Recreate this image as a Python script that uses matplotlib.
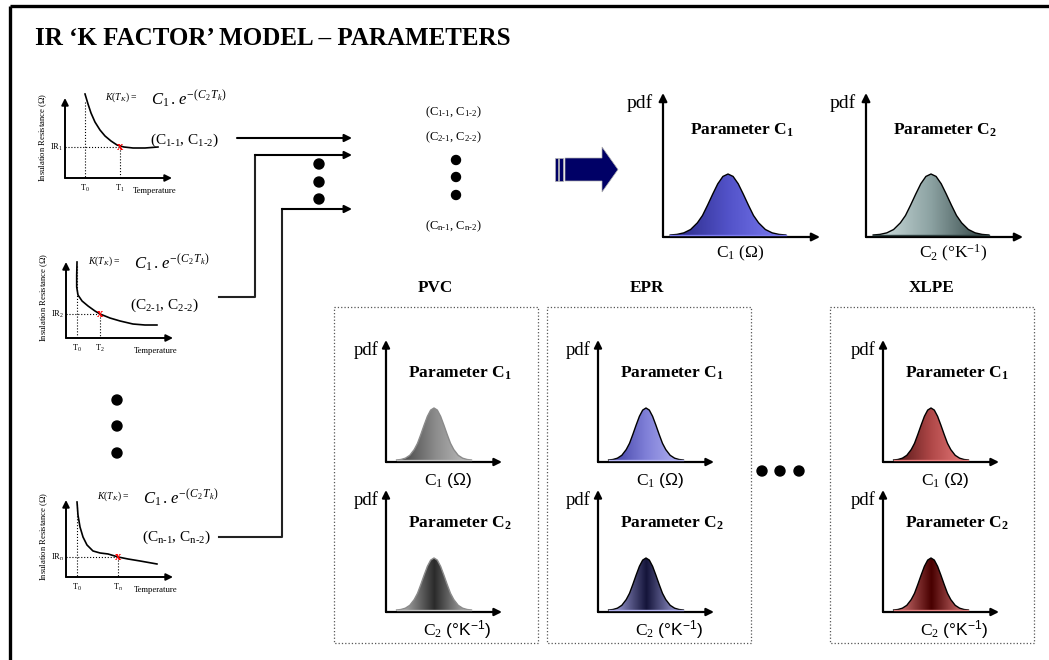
import numpy as np
import matplotlib
matplotlib.use('Agg')
import matplotlib.pyplot as plt
from matplotlib.patches import Polygon, Rectangle, Circle
from matplotlib.colors import LinearSegmentedColormap

plt.rcParams['font.family'] = ['Liberation Serif', 'DejaVu Serif']
plt.rcParams['mathtext.fontset'] = 'custom'
plt.rcParams['mathtext.rm'] = 'Liberation Serif'
plt.rcParams['mathtext.it'] = 'Liberation Serif:italic'
plt.rcParams['mathtext.bf'] = 'Liberation Serif:bold'
plt.rcParams['mathtext.sf'] = 'Liberation Sans'

# ---- values ----
title = 'IR ‘K FACTOR’ MODEL – PARAMETERS'
materials = ['PVC', 'EPR', 'XLPE']
param_names = [r'Parameter $\mathbf{C_1}$', r'Parameter $\mathbf{C_2}$']
unit_labels = [r'C$_1$ ($\Omega$)', r'C$_2$ ($\degree$K$^{-1}$)']
small_unit_labels = [r'C$_1$ $\mathsf{(\Omega)}$', r'C$_2$ $\mathsf{(\degree K^{-1})}$']
sample_ids = ['1', '2', 'n']
coef_labels = [r'(C$_{1\text{-}1}$, C$_{1\text{-}2}$)',
               r'(C$_{2\text{-}1}$, C$_{2\text{-}2}$)',
               r'(C$_{\mathrm{n}\text{-}1}$, C$_{\mathrm{n}\text{-}2}$)']
formula = r'$C_1\,.\,e^{-(C_2\,T_k)}$'

# IR vs temperature sketches (fraction of axis length / axis height)
ir_temp = [
    [.187, .215, .243, .28, .327, .374, .43, .486, .551, .636, .748, .869],
    [.103, .100, .100, .112, .15, .206, .271, .318, .411, .505, .626, .738, .85],
    [.103, .112, .131, .159, .196, .252, .318, .393, .486, .579, .692, .85],
]
ir_res = [
    [1.05, .925, .8125, .7, .6, .525, .4625, .4125, .3875, .375, .375, .3875],
    [1.0, .829, .671, .566, .487, .421, .355, .316, .263, .224, .184, .171, .171],
    [.974, .805, .649, .519, .416, .338, .312, .299, .26, .234, .208, .169],
]
t0_temp = [.187, .103, .103]
tk_temp = [.514, .318, .486]
tk_res = [.3875, .316, .26]

# bell-shaped pdf profile (offset in widths, relative height)
bell_u = [-3.4, -3.0, -2.6, -2.2, -1.8, -1.5, -1.2, -0.9, -0.6, -0.3, 0.0,
          0.3, 0.6, 0.9, 1.2, 1.5, 1.8, 2.2, 2.6, 3.0, 3.4]
bell_h = [0.0, 0.01, 0.035, 0.09, 0.2, 0.32, 0.49, 0.67, 0.84, 0.96, 1.0,
          0.96, 0.84, 0.67, 0.49, 0.32, 0.2, 0.09, 0.035, 0.01, 0.0]

top_colors = [['#262680', '#5252c8', '#7c7cf2'], ['#d4e4e4', '#8ca2a2', '#2e4040']]
small_colors = [
    [['#3e3e3e', '#8a8a8a', '#c2c2c2'], ['#c2c2c2', '#2a2a2a', '#c2c2c2']],
    [['#3c3ca0', '#8080d8', '#b6b6f4'], ['#b2b2ee', '#14143a', '#b2b2ee']],
    [['#501414', '#b04848', '#ec8080'], ['#e48282', '#480000', '#e48282']],
]
small_edges = ['#8a8a8a', 'black', 'black']

# ---- layout (pixels) ----
fig = plt.figure(figsize=(10.49, 6.6), dpi=100)
ax = fig.add_axes([0, 0, 1, 1])
ax.axis('off')


def arrow(x0, y0, x1, y1, lw=1.5, ms=11, color='black'):
    ax.annotate('', xy=(x1, y1), xytext=(x0, y0),
                arrowprops=dict(arrowstyle='-|>', lw=lw, color=color,
                                shrinkA=0, shrinkB=0, mutation_scale=ms))


def dot(x, y, r=5):
    ax.add_patch(Circle((x, y), r, color='black', zorder=5))


def bell(cx, base, width, height, colors, edge):
    xs = cx + np.array(bell_u) * width
    ys = base - np.array(bell_h) * height
    patch = Polygon(np.column_stack([xs, ys]), closed=True, fc='none', ec='none')
    ax.add_patch(patch)
    cmap = LinearSegmentedColormap.from_list('g', colors)
    im = ax.imshow(np.linspace(0, 1, 256).reshape(1, -1), cmap=cmap, aspect='auto',
                   extent=[xs.min(), xs.max(), base, base - height], zorder=3)
    im.set_clip_path(patch)
    ax.plot(xs, ys, color=edge, lw=1.0, zorder=4)
    ax.plot([xs.min(), xs.max()], [base, base], color=colors[-1], lw=1.0, zorder=4)


# frame and title
ax.plot([10, 1049], [6, 6], color='black', lw=2.4, solid_capstyle='butt')
ax.plot([10, 10], [6, 660], color='black', lw=2.4, solid_capstyle='butt')
ax.text(35, 45, title, fontsize=18, fontweight='bold', va='baseline')

# IR sketches on the left
sk_origin = [(65, 178), (66, 338), (66, 577)]
sk_h = [80, 76, 77]
sk_w = 107
formula_pos = [(105, 97), (88, 261), (97, 496)]
coef_pos = [(150, 140), (130, 305), (142, 537)]
for i, (ox, oy) in enumerate(sk_origin):
    h = sk_h[i]
    arrow(ox, oy, ox, oy - h, lw=1.4, ms=10)
    arrow(ox, oy, ox + sk_w, oy, lw=1.4, ms=10)
    px = ox + np.array(ir_temp[i]) * sk_w
    py = oy - np.array(ir_res[i]) * h
    ax.plot(px, py, color='black', lw=1.2)
    t0x = ox + t0_temp[i] * sk_w
    tkx = ox + tk_temp[i] * sk_w
    tky = oy - tk_res[i] * h
    ax.plot([t0x, t0x], [oy - h + 4, oy], color='black', lw=0.8, ls=':')
    ax.plot([tkx, tkx], [tky, oy], color='black', lw=0.8, ls=':')
    ax.plot([ox, tkx], [tky, tky], color='black', lw=0.8, ls=':')
    ax.text(tkx, tky, 'x', color='red', fontsize=9, fontweight='bold', ha='center', va='center')
    ax.text(ox - 2, tky, 'IR$_{%s}$' % sample_ids[i], fontsize=6, ha='right', va='center')
    ax.text(t0x, oy + 10, 'T$_0$', fontsize=6, ha='center', va='center')
    ax.text(tkx, oy + 10, 'T$_{%s}$' % sample_ids[i], fontsize=6, ha='center', va='center')
    ax.text(ox + 90, oy + 13, 'Temperature', fontsize=6.2, ha='center', va='center')
    ax.text(ox - 22, oy - 41, r'Insulation Resistance ($\Omega$)', fontsize=6.2, rotation=90,
            ha='center', va='center')
    fx, fy = formula_pos[i]
    ax.text(fx, fy, r'$K(T_K)$ =', fontsize=7, ha='left', va='center')
    ax.text(fx + 46, fy + 2, formula, fontsize=12, ha='left', va='center')
    cx, cy = coef_pos[i]
    ax.text(cx, cy, coef_labels[i], fontsize=11, ha='left', va='center')

# connectors to the collected coefficients
ax.plot([219, 255, 255], [297, 297, 155], color='#222222', lw=1.5)
ax.plot([219, 282, 282], [537, 537, 209], color='#222222', lw=1.5)
arrow(237, 138, 352, 138)
arrow(255, 155, 352, 155)
arrow(282, 209, 352, 209)
for y in [164, 182, 199]:
    dot(319, y)
for y in [400, 426, 453]:
    dot(117, y)

# collected coefficient list
ax.text(453, 112, coef_labels[0], fontsize=9, ha='center', va='center')
ax.text(453, 137, coef_labels[1], fontsize=9, ha='center', va='center')
for y in [160, 177, 195]:
    dot(456, y, 4.5)
ax.text(453, 226, coef_labels[2], fontsize=9, ha='center', va='center')

# big arrow
navy = '#000066'
ax.add_patch(Rectangle((555, 158), 2.5, 23, fc=navy, ec='#b0b0b0', lw=0.5))
ax.add_patch(Rectangle((559, 158), 4, 23, fc=navy, ec='#b0b0b0', lw=0.5))
ax.add_patch(Polygon([(565, 158), (602, 158), (602, 147), (618, 169.5), (602, 192),
                      (602, 181), (565, 181)], closed=True, fc=navy, ec='#b0b0b0', lw=0.5))

# overall pdf charts
top_origin = [(663, 237), (866, 237)]
for j, (ox, oy) in enumerate(top_origin):
    arrow(ox, oy, ox, oy - 144, lw=1.6, ms=12)
    arrow(ox, oy, ox + 157, oy, lw=1.6, ms=12)
    bell(ox + 65, oy - 2, 17, 61, top_colors[j], 'black')
    ax.text(ox - 10, oy - 134, 'pdf', fontsize=14, ha='right', va='center')
    ax.text(ox + 79, oy - 107, param_names[j], fontsize=12.5, fontweight='bold',
            ha='center', va='center')
    ax.text(ox + 77 + 10 * j, oy + 16, unit_labels[j], fontsize=12.5, ha='center', va='center')

# per-material pdf charts
mat_x = [386, 598, 883]
row_y = [462, 612]
box_left = [334, 547, 830]
for m, mx in enumerate(mat_x):
    ax.add_patch(Rectangle((box_left[m], 307), 204, 336, fc='none', ec='#555555',
                           lw=0.9, ls=':'))
    ax.text(mx + 49, 288, materials[m], fontsize=12.3, fontweight='bold', ha='center', va='center')
    for j, oy in enumerate(row_y):
        arrow(mx, oy, mx, oy - 122, lw=1.6, ms=11)
        arrow(mx, oy, mx + 116, oy, lw=1.6, ms=11)
        bell(mx + 48, oy - 2, 11, 52, small_colors[m][j], small_edges[m])
        ax.text(mx - 7, oy - 112, 'pdf', fontsize=13.5, ha='right', va='center')
        ax.text(mx + 74, oy - 89, param_names[j], fontsize=12.5, fontweight='bold',
                ha='center', va='center')
        ax.text(mx + 62 + 9 * j, oy + 18, small_unit_labels[j], fontsize=12.5,
                ha='center', va='center')

for x in [762, 780, 799]:
    dot(x, 471)

ax.set_xlim(0, 1049)
ax.set_ylim(660, 0)
fig.savefig('out.png', dpi=100, facecolor='white')
